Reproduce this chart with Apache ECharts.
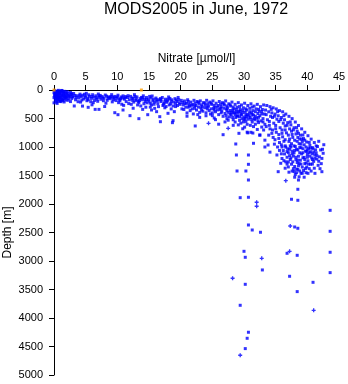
<!DOCTYPE html>
<html>
<head>
<meta charset="utf-8">
<script src="https://cdn.jsdelivr.net/npm/echarts@6/dist/echarts.min.js"></script>
<style>
  html, body { margin: 0; padding: 0; background: #fff; }
  #chart { width: 348px; height: 384px; }
</style>
</head>
<body>
<div id="chart"></div>
<script>
// Nitrate profiles, MODS2005, June 1972: [nitrate (µmol/l), depth (m)]
const titleText = 'MODS2005 in June, 1972';
const xName = 'Nitrate [\u00b5mol/l]';
const yName = 'Depth [m]';
const xTicks = [0, 5, 10, 15, 20, 25, 30, 35, 40, 45];
const yTicks = [0, 500, 1000, 1500, 2000, 2500, 3000, 3500, 4000, 4500, 5000];

// near-surface, nitrate-depleted layer
const surfaceObs = [
  [0.1,12],[0.3,34],[0.6,18],[0.8,42],[1.1,22],[1.3,38],[1.6,55],[0.2,64],[0.6,72],[0.9,57],
  [1.2,83],[1.5,66],[1.8,92],[0.1,104],[0.4,113],[0.7,96],[1.0,124],[1.4,108],[1.9,131],[0.3,143],
  [0.6,152],[0.9,137],[1.2,163],[0.2,178],[0.5,193],[0.8,171],[1.1,204],[1.6,152],[2.0,121],[2.2,63],
  [2.4,97],[0.4,212],[0.0,48],[0.0,133],[1.4,186],[1.7,24],[2.1,31],[0.7,6],[1.2,8],[0.3,86],
  [2.6,44],[2.3,150],[1.9,175],[0.0,225],
  [0.2,25],[0.5,45],[0.9,30],[1.3,15],[1.5,95],[0.4,160],[0.8,118],[1.7,115],[2.0,80],[2.5,120],
  [2.8,65],[1.0,185],[0.5,235],[1.3,140],[0.1,75],[1.9,50],[2.2,180],[0.6,128],[1.1,100],[1.6,210],
  [0.4,55],[0.7,135],[1.0,65],[1.4,175],[0.2,120],[1.8,140],[0.9,200],[2.3,105],[0.5,90],[1.5,30]
];

// nitracline, shallow part
const clineObs = [
  [2.7,82],[2.8,151],[2.6,203],[3.1,61],[3.0,124],[3.2,280],[3.6,102],[3.4,172],[4.1,73],[3.9,141],
  [4.2,212],[4.5,93],[4.7,158],[4.5,282],[5.1,58],[4.9,131],[5.2,188],[5.6,112],[5.4,171],[5.4,304],
  [6.1,83],[5.9,148],[6.2,223],[6.6,102],[6.4,183],[6.5,340],[7.0,71],[7.2,128],[6.9,198],[7.1,340],
  [7.6,113],[7.4,162],[8.1,88],[7.9,143],[8.2,232],[8.6,121],[8.4,181],[9.1,82],[8.9,152],[9.2,208],
  [9.6,112],[9.4,171],[9.6,398],[10.1,91],[9.9,141],[10.2,222],[10.1,433],[10.6,122],[10.4,188],[10.9,103],
  [11.1,161],[10.9,351],[11.6,132],[11.4,203],[12.1,112],[11.9,172],[12.2,251],[12.0,450],
  [12.7,82],[12.5,141],[12.6,212],[13.1,121],[12.9,183],[13.2,262],[13.6,151],[13.4,222],[13.4,503],[14.1,102],
  [13.9,172],[14.2,241],[14.6,131],[14.4,202],[14.5,302],[15.1,112],[14.9,163],[15.2,232],[14.8,433],[15.5,105],
  [15.6,192],[15.4,262],[15.4,351],[16.1,141],[15.9,212],[15.9,322],[16.6,171],[16.4,243],[16.5,292],[17.1,132],
  [16.9,203],[17.2,272],[16.7,468],[16.8,556],[17.6,161],[17.4,232],[17.5,312],[18.1,122],[17.9,193],[18.2,262],
  [18.0,409],[18.6,172],[18.4,243],[18.5,332],[18.7,573],[19.1,152],[18.9,212],[19.2,291],[18.8,538],[19.6,131],
  [19.4,203],[19.5,272],[20.1,182],[19.9,252],[20.2,331],
  [3.3,95],[3.8,205],[4.3,118],[4.8,75],[5.3,145],[5.8,205],[6.3,128],[6.8,160],[7.3,95],[7.8,188],
  [8.3,108],[8.8,130],[9.3,125],[9.8,185],[10.3,160],[10.8,140],[11.3,115],[11.8,238],[12.3,145],[12.8,115],
  [13.3,200],[13.8,130],[14.3,160],[14.7,225],[15.3,140],[15.8,250],[16.3,195],[16.8,150],[17.3,250],[17.8,215],
  [18.3,150],[18.8,280],[19.3,175],[19.8,225],[11.0,270],[8.0,290],[6.0,260],[14.0,340],[16.2,380],[19.0,380],
  [12.5,320],
  [2.9,110],[3.5,135],[4.0,100],[4.4,175],[5.0,105],[5.5,85],[6.0,115],[6.7,135],[7.1,105],[7.7,140],
  [8.5,150],[9.0,115],[9.5,140],[10.0,120],[10.5,155],[11.2,140],[11.7,100],[12.4,180],[13.0,160],[13.5,185],
  [14.0,135],[14.6,170],[15.0,195],[15.7,160],[16.2,170],[16.9,175],[17.5,195],[18.0,165],[18.5,205],[19.2,240],
  [19.7,170],[17.7,290],[15.2,300],[13.7,280],[10.7,250]
];

// nitracline, deeper part
const midObs = [
  [20.6,192],[20.4,262],[20.5,342],[21.1,171],[20.9,232],[21.2,302],[21.0,402],[21.6,212],[21.4,282],[21.5,362],
  [22.1,181],[21.9,252],[22.2,322],[22.3,631],[22.6,202],[22.4,272],[22.5,352],[22.7,432],[23.1,191],[22.9,242],
  [23.2,312],[23.0,392],[23.6,222],[23.4,292],[23.5,372],[24.1,181],[23.9,262],[24.2,332],[24.0,452],[24.6,212],
  [24.4,282],[24.5,362],[24.7,422],[25.1,191],[24.9,252],[25.2,322],[25.0,402],[25.3,492],[25.6,232],[25.4,302],
  [25.5,382],[26.1,202],[25.9,272],[26.2,342],[26.0,432],[26.6,222],[26.4,292],[26.5,372],[26.7,462],[27.1,192],
  [26.9,262],[27.2,332],[27.0,412],[27.3,502],[27.6,242],[27.4,312],[27.5,392],[27.7,472],[28.1,212],[27.9,282],
  [28.2,352],[28.0,432],[28.3,522],[28.6,252],[28.4,332],[28.5,402],[28.7,482],[28.6,562],[29.1,222],[28.9,302],
  [29.2,372],[29.0,452],[29.3,532],[29.1,612],[29.6,262],[29.4,342],[29.5,422],[29.7,502],[29.5,582],[30.1,232],
  [29.9,312],[30.2,392],[30.0,472],[30.3,552],[30.1,652],[30.6,272],[30.4,352],[30.5,432],[30.7,512],[30.5,602],
  [30.6,752],[31.1,242],[30.9,322],[31.2,402],[31.0,482],[31.3,562],[31.1,742],[31.6,282],[31.4,362],[31.5,442],
  [31.7,522],[31.5,642],[32.1,252],[31.9,332],[32.2,412],[32.0,492],[32.3,572],[32.1,692],[32.6,292],[32.4,372],
  [32.5,452],[32.7,542],[32.5,792],[33.1,262],[32.9,342],[33.2,422],[33.0,502],[33.3,602],[33.1,702],
  [29.2,760],[30.5,740],[31.4,755],[26.7,784],
  [20.3,220],[20.8,300],[21.3,250],[21.8,330],[22.3,230],[22.8,300],[23.3,350],[23.8,310],[24.3,240],[24.8,330],
  [25.3,270],[25.8,350],[26.3,250],[26.8,320],[27.3,280],[27.8,360],[28.3,300],[28.8,380],[29.3,290],[29.8,400],
  [30.3,330],[30.8,420],[31.3,300],[31.8,460],[32.3,340],[32.8,420],[21.0,460],[23.0,480],[25.5,520],[27.0,560],
  [28.3,620],[29.8,680],[31.8,600],[32.8,650],[26.0,600],[24.0,400],[22.0,420],[30.0,520],[28.9,460],[27.8,420],
  [29.6,440],[30.4,470],[31.2,520],[28.2,480],[29.0,400],[30.9,380],[27.2,450],
  [20.7,240],[21.2,200],[21.7,270],[22.2,280],[22.8,215],[23.3,260],[23.8,230],[24.2,300],[24.8,230],[25.3,350],
  [25.8,300],[26.3,320],[26.8,240],[27.3,360],[27.8,260],[28.3,390],[28.8,340],[29.3,470],[29.8,360],[30.3,440],
  [30.8,460],[31.3,430],[31.8,380],[32.3,480],[32.8,380],[28.6,430],[29.9,560],[31.0,620],[30.2,500],[29.4,380],
  [28.0,390],[27.5,530],[26.4,400],[25.0,450],[31.6,500],[32.2,540],[33.0,560]
];

// intermediate water, nitrate maximum
const maxObs = [
  [33.6,272],[33.4,352],[33.5,432],[33.7,522],[33.5,642],[34.1,292],[33.9,382],[34.2,462],[34.0,552],[34.1,682],
  [33.9,792],[34.6,312],[34.4,402],[34.5,482],[34.7,582],[34.5,702],[34.6,832],[35.1,332],[34.9,422],[35.2,512],
  [35.0,622],[35.1,742],[34.9,872],[35.6,362],[35.4,452],[35.5,552],[35.7,662],[35.5,782],[35.6,922],[36.1,382],
  [35.9,482],[36.2,582],[36.0,702],[36.1,822],[35.9,962],[36.2,1062],[36.0,1202],[36.6,422],[36.4,522],[36.5,632],
  [36.7,752],[36.5,872],[36.6,1002],[36.4,1122],[36.5,1372],[37.1,462],[36.9,572],[37.2,682],[37.0,792],[37.1,902],
  [36.9,1032],[37.2,1152],[37.0,1262],[37.1,1442],[37.6,502],[37.4,612],[37.5,722],[37.7,832],[37.5,942],[37.6,1072],
  [37.4,1192],[37.5,1302],[37.6,1422],[38.1,562],[37.9,662],[38.2,772],[38.0,882],[38.1,992],[37.9,1102],[38.2,1222],
  [38.0,1342],[38.1,1482],[38.6,622],[38.4,722],[38.5,832],[38.7,942],[38.5,1052],[38.6,1162],[38.4,1272],[38.5,1392],
  [38.7,1522],[39.1,682],[38.9,792],[39.2,902],[39.0,1012],[39.1,1122],[38.9,1232],[39.2,1352],[39.0,1462],[39.6,742],
  [39.4,852],[39.5,962],[39.7,1072],[39.5,1182],[39.6,1292],[39.4,1412],[40.1,802],[39.9,912],[40.2,1022],[40.0,1132],
  [40.1,1242],[39.9,1352],[40.1,1462],[40.6,862],[40.4,972],[40.5,1082],[40.7,1192],[40.5,1302],[40.6,1422],[41.1,922],
  [40.9,1032],[41.2,1142],[41.0,1252],[41.1,1372],[41.6,992],[41.4,1102],[41.5,1212],[41.7,1322],[42.1,1052],[41.9,1172],
  [42.2,1292],[42.5,1110],[42.3,1200],[42.3,1433],[42.6,960],[41.2,1462],[38.6,1579],[35.8,1286],[35.4,1433],[35.2,1140],
  [33.3,880],[33.3,1000],[33.8,965],[34.1,1090],[31.5,935],[32.5,790],
  [34.3,340],[34.8,460],[35.3,380],[35.8,520],[36.3,450],[36.8,620],[37.3,560],[37.8,700],[38.3,660],[38.8,860],
  [39.3,790],[39.8,1000],[40.3,920],[40.8,1120],[41.3,1050],[41.8,1250],[42.0,1380],[36.3,900],[36.8,1080],[37.3,1220],
  [37.8,1380],[38.3,1450],[38.8,1100],[39.3,1190],[39.8,1280],[40.3,1380],[40.8,1300],[37.3,980],[37.8,1160],[38.3,1040],
  [38.8,1420],[39.3,1030],[39.8,1450],[40.3,1100],[40.8,1010],[37.0,1350],[38.0,1530],[39.5,1530],[38.6,1330],[39.6,880],
  [37.7,1260],[36.8,1300],[35.9,1120],[35.3,1000],[34.8,950],[36.3,1240],[37.2,860],[38.6,760],[39.0,950],[40.0,1180],
  [41.5,1150],[42.4,1040],[41.8,900],
  [34.0,620],[34.4,760],[35.0,680],[35.5,850],[36.0,760],[36.5,980],[36.8,1180],[37.2,1040],[37.6,1120],[37.9,980],
  [38.2,1180],[38.5,1230],[38.8,1010],[39.0,1300],[39.3,1100],[39.6,1220],[39.9,1080],[40.2,1300],[40.5,1020],[40.8,1220],
  [41.2,1200],[41.0,1090],[39.7,1380],[38.7,1290],[37.9,1430],[38.3,1390],[39.2,1460],[37.4,1000],[36.6,1260],[37.0,1100],
  [38.0,1060],[38.4,900],[39.1,860],[40.0,1050],[40.4,1160],[41.4,980],[36.0,1000],[35.6,1060],[37.6,780],[36.5,700]
];

// sparse deep samples
const deepObs = [
  [28.7,947],[28.8,1140],[30.7,1140],[30.7,1304],[28.9,1421],[30.3,1421],[30.7,1579],[29.4,1889],[30.7,1882],
  [30.7,2368],[31.3,2456],[32.6,2496],[38.5,1742],[37.5,1917],[38.5,1935],[43.6,2111],[38.0,2403],[38.5,2426],
  [43.6,2479],[30.0,2830],[30.2,2935],[32.9,3157],[36.8,2865],[38.4,2900],[43.6,2847],[43.6,3204],[30.2,3409],
  [37.2,3268],[40.9,3374],[38.4,3537],[29.4,3777],[30.7,4250],[30.5,4356],[30.2,4537]
];

// samples drawn with a cross marker
const crossObs = [
  [24.4,585],[27.5,673],[36.6,1590],[32.0,1970],[32.0,2040],[37.3,2386],[32.8,2953],[37.2,2830],
  [28.2,3303],[41.0,3865],[29.4,4654]
];

// flagged surface samples
const flaggedObs = [[0.0,0],[13.8,0]];

const FONT = '"Liberation Sans", Arial, Helvetica, sans-serif';
const BLUE = '#0000ff';

const dotSeries = (data) => ({
  type: 'scatter',
  data: data,
  symbol: 'rect',
  symbolSize: 3,
  itemStyle: { color: BLUE },
  silent: true,
  z: 2
});

const chart = echarts.init(document.getElementById('chart'), null, { renderer: 'canvas' });
chart.setOption({
  backgroundColor: '#ffffff',
  animation: false,
  title: {
    text: titleText,
    left: 196,
    top: 2,
    padding: 0,
    textAlign: 'center',
    textStyle: { fontFamily: FONT, fontSize: 16, fontWeight: 'normal', color: '#000' }
  },
  grid: { left: 54, top: 90, width: 285, height: 285, containLabel: false, outerBoundsMode: 'none' },
  xAxis: {
    type: 'value',
    position: 'top',
    min: 0, max: 45, interval: 5,
    name: xName,
    nameLocation: 'middle',
    nameGap: 25,
    nameMoveOverlap: false,
    nameTextStyle: { fontFamily: FONT, fontSize: 12, color: '#000' },
    axisLine: { show: true, onZero: false, lineStyle: { color: '#000', width: 1 } },
    axisTick: { show: true, length: 5, lineStyle: { color: '#000', width: 1 } },
    axisLabel: { fontFamily: FONT, fontSize: 11, color: '#000', margin: 8,
      formatter: (v) => xTicks.includes(v) ? String(v) : '' },
    splitLine: { show: false }
  },
  yAxis: {
    type: 'value',
    inverse: true,
    min: 0, max: 5000, interval: 500,
    name: yName,
    nameLocation: 'middle',
    nameGap: 40,
    nameMoveOverlap: false,
    nameTextStyle: { fontFamily: FONT, fontSize: 12, color: '#000' },
    axisLine: { show: true, onZero: false, lineStyle: { color: '#000', width: 1 } },
    axisTick: { show: true, length: 5, lineStyle: { color: '#000', width: 1 } },
    axisLabel: { fontFamily: FONT, fontSize: 11, color: '#000', margin: 11,
      formatter: (v) => yTicks.includes(v) ? String(v) : '' },
    splitLine: { show: false }
  },
  series: [
    dotSeries(surfaceObs),
    dotSeries(clineObs),
    dotSeries(midObs),
    dotSeries(maxObs),
    dotSeries(deepObs),
    {
      type: 'scatter',
      data: crossObs,
      symbol: 'path://M1,0H2V1H3V2H2V3H1V2H0V1H1Z',
      symbolSize: 4,
      itemStyle: { color: BLUE },
      silent: true,
      z: 2
    },
    {
      type: 'scatter',
      data: flaggedObs,
      symbol: 'rect',
      symbolSize: 3,
      itemStyle: { color: '#ffa000' },
      silent: true,
      z: 10
    }
  ]
});
</script>
</body>
</html>
